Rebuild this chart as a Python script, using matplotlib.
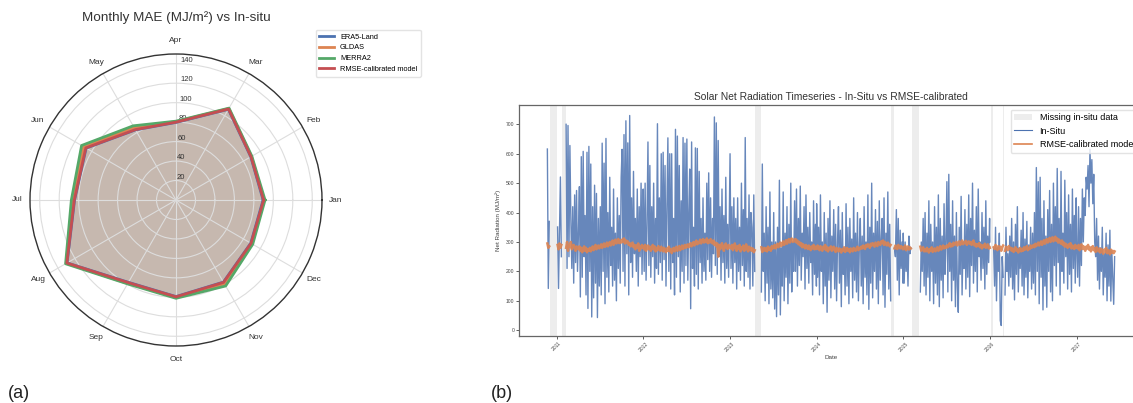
import numpy as np
import pandas as pd
import matplotlib
matplotlib.use("Agg")
import matplotlib.pyplot as plt
import matplotlib.dates as mdates
from matplotlib.patches import Patch
from matplotlib.lines import Line2D

plt.rcParams['font.family'] = ['Liberation Sans', 'DejaVu Sans']

# ---- panel (a): monthly MAE per product ----
months = ['Jan', 'Feb', 'Mar', 'Apr', 'May', 'Jun',
          'Jul', 'Aug', 'Sep', 'Oct', 'Nov', 'Dec']
mae_era5 = [89.5, 88.7, 107.6, 79.7, 83.2, 106.6, 104.2, 129.2, 97.7, 99.2, 97.4, 88.7]
mae_gldas = [90.5, 89.5, 108.5, 80.5, 86.0, 109.5, 106.0, 130.0, 99.0, 100.0, 99.5, 90.0]
mae_merra2 = [91.5, 90.0, 109.0, 81.0, 88.0, 112.0, 107.5, 131.0, 99.5, 101.0, 102.0, 91.0]
mae_rmse = [90.0, 89.0, 108.0, 80.0, 83.5, 107.0, 104.5, 129.5, 98.0, 99.5, 97.7, 89.0]
radar_names = ['ERA5-Land', 'GLDAS', 'MERRA2', 'RMSE-calibrated model']
radar_colors = ['#4C72B0', '#DD8452', '#55A868', '#C44E52']

# ---- panel (b): in-situ vs model, values every 4 days ----
year_starts = ['2010-11-23', '2011-01-01', '2012-01-01', '2013-01-01',
               '2014-01-01', '2015-01-01', '2016-01-01', '2017-01-01']

insitu_2010 = [616, 142, 370]
insitu_2011 = [300, 351, 142, 330, 521, 250, 300, 280, 290, 121, 700, 210, 696, 250, 628, 380, 210, 420, 160, 460, 230, 475, 200,
               330, 488, 113, 590, 180, 608, 250, 390, 120, 605, 74, 625, 200, 565, 45, 420, 110, 493, 160, 465, 43, 380, 150,
               420, 120, 636, 200, 568, 90, 652, 180, 400, 130, 520, 220, 350, 150, 480, 170, 330, 100, 450, 210, 390, 160, 520,
               615, 200, 665, 150, 712, 260, 637, 120, 730, 230, 450, 180, 540, 260, 380, 200, 480, 150, 420, 250, 500, 190, 400]
insitu_2012 = [480, 200, 500, 170, 360, 640, 220, 560, 180, 420, 250, 500, 160, 380, 210, 702, 190, 450, 230, 600, 170, 605, 240,
               560, 150, 420, 654, 200, 600, 140, 600, 230, 380, 120, 683, 180, 660, 250, 560, 130, 440, 200, 655, 160, 636, 220,
               650, 170, 400, 548, 73, 640, 210, 350, 150, 620, 190, 618, 140, 540, 230, 380, 160, 450, 200, 330, 170, 500, 240,
               535, 200, 450, 180, 380, 260, 725, 220, 705, 190, 645, 250, 420, 170, 480, 230, 390, 160, 520, 210, 360, 180, 440]
insitu_2013 = [600, 210, 420, 160, 450, 230, 380, 140, 450, 200, 350, 170, 500, 220, 410, 150, 655, 200, 380, 180, 460, 140, 400,
               350, 150, 460, 200, 300, 250, 280, 500, 180, 380, 130, 565, 200, 330, 100, 420, 160, 350, 90, 470, 140, 300, 110,
               400, 72, 300, 46, 350, 120, 510, 52, 280, 150, 470, 100, 330, 180, 420, 90, 360, 160, 500, 130, 300, 200, 440,
               200, 480, 150, 380, 220, 490, 170, 330, 250, 420, 140, 460, 210, 350, 160, 400, 230, 300, 120, 440, 190, 360, 150]
insitu_2014 = [430, 180, 350, 120, 460, 200, 300, 90, 400, 150, 330, 61, 380, 170, 440, 110, 320, 200, 410, 140, 360, 100, 300,
               420, 160, 340, 80, 400, 190, 280, 120, 430, 150, 350, 90, 380, 200, 310, 110, 450, 170, 330, 130, 400, 100, 290,
               380, 150, 320, 90, 420, 180, 300, 120, 460, 71, 350, 160, 500, 110, 330, 200, 410, 140, 370, 90, 440, 170, 310,
               380, 120, 450, 78, 330, 190, 470, 140, 360, 100, 420, 200, 300, 280, 250, 410, 170, 380, 120, 340, 210, 300, 160]
insitu_2015 = [330, 160, 300, 200, 280, 150, 320, 260, 280, 290, 280, 300, 270, 250, 103, 350, 180, 420, 130, 300, 200, 380, 150,
               400, 120, 330, 180, 440, 100, 360, 200, 300, 90, 420, 160, 350, 120, 460, 80, 380, 170, 320, 110, 430, 190, 300,
               505, 130, 530, 200, 360, 100, 440, 170, 320, 80, 400, 150, 61, 350, 190, 455, 120, 300, 210, 410, 140, 360, 180,
               460, 114, 380, 220, 500, 160, 340, 200, 420, 130, 480, 250, 300, 170, 400, 210, 350, 140, 440, 190, 320, 230, 380]
insitu_2016 = [300, 250, 260, 270, 280, 150, 350, 100, 280, 200, 330, 33, 16, 250, 180, 300, 120, 350, 200, 260, 150, 320, 180,
               380, 140, 300, 103, 360, 190, 420, 130, 280, 210, 340, 150, 400, 120, 310, 180, 370, 110, 290, 200, 350, 140, 330,
               160, 400, 120, 553, 200, 505, 90, 520, 180, 380, 69, 440, 150, 320, 78, 410, 200, 475, 130, 360, 100, 500, 220,
               420, 150, 550, 230, 380, 120, 540, 200, 330, 160, 510, 250, 400, 140, 460, 190, 360, 130, 480, 210, 390, 160, 450]
insitu_2017 = [300, 180, 420, 150, 380, 220, 480, 300, 450, 390, 520, 480, 560, 420, 615, 500, 580, 430, 530, 300, 250, 380, 170,
               320, 140, 280, 200, 350, 120, 260, 180, 330, 100, 290, 150, 340, 99, 270, 180, 88, 250]

model_2010 = [295, 280, 285]
model_2011 = [285, 290, 275, 295, 280, 290, 285, 280, 285, 295, 280, 300, 270, 290, 285, 300, 275, 285, 290, 280, 270, 285, 280,
              275, 285, 270, 280, 265, 275, 285, 270, 280, 265, 275, 270, 280, 268, 276, 285, 272, 280, 290, 275, 282, 288, 278,
              285, 292, 280, 290, 295, 283, 288, 298, 285, 292, 300, 288, 295, 305, 290, 298, 308, 295, 300, 310, 296, 305, 298,
              308, 300, 312, 295, 305, 298, 302, 290, 296, 285, 292, 298, 282, 290, 275, 288, 280, 295, 270, 285, 278, 290, 280]
model_2012 = [285, 275, 290, 270, 282, 288, 276, 284, 270, 280, 290, 275, 285, 268, 280, 272, 286, 278, 270, 284, 276, 268, 280,
              272, 265, 278, 270, 284, 268, 276, 262, 274, 280, 268, 276, 284, 270, 278, 286, 272, 280, 288, 276, 284, 290, 280,
              286, 292, 282, 290, 296, 285, 292, 300, 288, 296, 305, 292, 300, 296, 308, 295, 302, 310, 298, 305, 300, 312, 296,
              305, 298, 310, 300, 295, 305, 290, 298, 285, 295, 250, 290, 275, 288, 296, 280, 270, 288, 295, 280, 276, 290, 282]
model_2013 = [285, 278, 290, 272, 284, 295, 280, 270, 286, 276, 290, 268, 282, 275, 288, 270, 280, 292, 276, 268, 284, 272, 280,
              270, 278, 265, 272, 280, 270, 275, 268, 276, 270, 282, 266, 274, 280, 270, 278, 268, 284, 274, 280, 270, 286, 278,
              282, 290, 278, 286, 294, 282, 290, 298, 286, 294, 302, 290, 298, 306, 294, 302, 310, 298, 306, 312, 300, 308, 302,
              310, 298, 305, 292, 300, 288, 296, 282, 292, 286, 278, 290, 282, 276, 288, 280, 272, 285, 278, 290, 275, 284, 280]
model_2014 = [276, 288, 280, 272, 286, 278, 270, 284, 276, 290, 272, 282, 268, 280, 276, 285, 270, 278, 284, 272, 266, 280, 274,
              268, 278, 272, 264, 276, 270, 282, 266, 274, 280, 270, 276, 265, 278, 272, 268, 280, 274, 270, 278, 284, 272, 280,
              276, 284, 278, 288, 282, 276, 290, 284, 292, 286, 280, 294, 288, 296, 290, 284, 298, 292, 286, 300, 294, 290, 302,
              296, 305, 290, 300, 294, 288, 298, 292, 285, 290, 280, 292, 286, 278, 288, 282, 276, 290, 284, 278, 286, 280, 275]
model_2015 = [282, 276, 288, 272, 280, 285, 274, 282, 278, 280, 280, 280, 280, 250, 245, 270, 262, 278, 284, 270, 276, 282, 268,
              275, 268, 280, 272, 264, 276, 270, 282, 266, 274, 278, 268, 276, 282, 270, 278, 286, 274, 280, 288, 278, 284, 280,
              288, 282, 290, 296, 284, 292, 286, 298, 290, 294, 300, 288, 296, 302, 290, 298, 305, 292, 300, 296, 304, 290, 298,
              302, 294, 300, 290, 296, 305, 288, 294, 284, 292, 286, 296, 282, 290, 278, 288, 284, 294, 280, 286, 292, 278, 284]
model_2016 = [280, 288, 290, 285, 282, 276, 290, 280, 272, 286, 278, 284, 270, 282, 288, 276, 270, 284, 278, 272, 286, 276, 280,
              270, 278, 266, 274, 282, 270, 276, 264, 272, 280, 268, 276, 270, 282, 274, 278, 286, 272, 280, 276, 288, 280, 284,
              290, 282, 294, 286, 292, 298, 288, 296, 302, 290, 298, 306, 294, 302, 310, 298, 306, 314, 300, 308, 316, 302, 310,
              318, 304, 312, 298, 308, 300, 294, 305, 290, 298, 284, 294, 288, 280, 292, 284, 296, 278, 288, 282, 276, 290, 280]
model_2017 = [286, 278, 290, 272, 284, 292, 276, 286, 280, 270, 284, 278, 290, 274, 282, 268, 280, 286, 272, 278, 266, 282, 274,
              268, 278, 264, 276, 270, 260, 274, 266, 280, 262, 272, 268, 258, 274, 264, 270, 262, 268]

missing_spans = [('2010-12-05', '2011-01-01'), ('2011-01-22', '2011-02-09'),
                 ('2013-04-16', '2013-05-12'), ('2014-11-10', '2014-11-24'),
                 ('2015-02-05', '2015-03-10'), ('2016-01-05', '2016-01-14'),
                 ('2016-02-27', '2016-03-01')]


def build_series(starts, chunks):
    parts = []
    for start, vals in zip(starts, chunks):
        idx = pd.date_range(start, periods=len(vals), freq='4D')
        parts.append(pd.Series(vals, index=idx, dtype=float))
    s = pd.concat(parts)
    s = s[~s.index.duplicated(keep='first')].sort_index()
    for a, b in missing_spans:
        s[(s.index >= a) & (s.index <= b)] = np.nan
    return s


insitu = build_series(year_starts, [insitu_2010, insitu_2011, insitu_2012, insitu_2013,
                                    insitu_2014, insitu_2015, insitu_2016, insitu_2017])
model = build_series(year_starts, [model_2010, model_2011, model_2012, model_2013,
                                   model_2014, model_2015, model_2016, model_2017])

fig = plt.figure(figsize=(11.33, 4.03), dpi=100)

# ---------------- radar ----------------
ax = fig.add_axes([30 / 1133, 57 / 403, 292 / 1133, 292 / 403], projection='polar')
angles = np.arange(len(months)) * 2 * np.pi / len(months)
closed = np.append(angles, angles[0])
for vals, name, col in zip([mae_era5, mae_gldas, mae_merra2, mae_rmse], radar_names, radar_colors):
    v = np.append(vals, vals[0])
    ax.plot(closed, v, color=col, lw=2, label=name)
    ax.fill(closed, v, color=col, alpha=0.17)

ax.set_ylim(0, 150)
ax.set_yticks([20, 40, 60, 80, 100, 120, 140])
ax.set_yticklabels(['20', '40', '60', '80', '100', '120', '140'], fontsize=5.5, color='#333333')
ax.set_rlabel_position(88)
ax.set_thetagrids(np.degrees(angles), months, fontsize=6, color='#333333')
ax.tick_params(axis='x', pad=-1)
ax.grid(color='#dddddd', lw=0.8)
ax.spines['polar'].set_color('#333333')
ax.spines['polar'].set_linewidth(1.0)
ax.set_title('Monthly MAE (MJ/m²) vs In-situ', fontsize=9.7, color='#333333', y=1.113, pad=0)
ax.legend(loc='upper left', bbox_to_anchor=(312 / 1133, 1 - 26 / 403), bbox_transform=fig.transFigure,
          fontsize=5.3, frameon=True, edgecolor='#dddddd', handlelength=2.0, borderpad=0.5)

# ---------------- timeseries ----------------
ax2 = fig.add_axes([519 / 1133, 67 / 403, 624 / 1133, 231 / 403])
for a, b in missing_spans:
    ax2.axvspan(pd.Timestamp(a), pd.Timestamp(b), color='lightgray', alpha=0.4, lw=0)
ax2.plot(insitu.index, insitu.values, color='#4C72B0', lw=1.0, alpha=0.85)
ax2.plot(model.index, model.values, color='#DD8452', lw=1.8, alpha=0.9)

ax2.xaxis.set_major_locator(mdates.YearLocator())
ax2.xaxis.set_major_formatter(mdates.DateFormatter('%Y'))
ax2.tick_params(axis='both', labelsize=3.6, length=2, width=0.6, colors='#444444', pad=1.5)
for lab in ax2.get_xticklabels():
    lab.set_rotation(45)
for sp in ax2.spines.values():
    sp.set_color('#666666')
    sp.set_linewidth(0.9)
ax2.set_xlabel('Date', fontsize=4.5, color='#444444', labelpad=2)
ax2.set_ylabel('Net Radiation (MJ/m²)', fontsize=4.5, color='#444444', labelpad=3)
ax2.set_title('Solar Net Radiation Timeseries - In-Situ vs RMSE-calibrated', fontsize=7.4, color='#333333', pad=3.5)

handles = [Patch(facecolor='lightgray', alpha=0.4, edgecolor='none'),
           Line2D([], [], color='#4C72B0', lw=0.8),
           Line2D([], [], color='#DD8452', lw=1.2)]
ax2.legend(handles, ['Missing in-situ data', 'In-Situ', 'RMSE-calibrated model'],
           loc='upper right', fontsize=6.5, frameon=True, edgecolor='#dddddd', borderpad=0.4)

fig.text(8 / 1133, 1 - 398 / 403, '(a)', fontsize=13, color='#222222')
fig.text(491 / 1133, 1 - 398 / 403, '(b)', fontsize=13, color='#222222')

fig.savefig('out.png', dpi=100)
